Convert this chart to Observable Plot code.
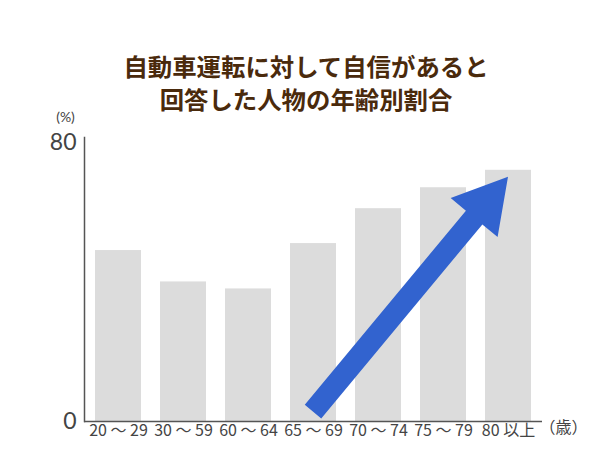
<!DOCTYPE html>
<html><head><meta charset="utf-8">
<script src="https://cdn.jsdelivr.net/npm/d3@7"></script>
<script src="https://cdn.jsdelivr.net/npm/@observablehq/plot@0.6"></script>
<style>
body{margin:0;background:#fff;width:600px;height:450px;overflow:hidden;font-family:"Noto Sans CJK JP",sans-serif;}
#title{height:118px;box-sizing:border-box;padding-top:49px;padding-left:12px;text-align:center;font-size:24.4px;font-weight:bold;line-height:33px;color:#4a2a0c;}
#chart svg{display:block;}
</style></head><body>
<div id="title">自動車運転に対して自信があると<br>回答した人物の年齢別割合</div>
<div id="chart"></div>
<script>
const ageGroups = ["20 ～ 29", "30 ～ 59", "60 ～ 64", "65 ～ 69", "70 ～ 74", "75 ～ 79", "80 以上"];
const shares = [49, 40, 38, 51, 61, 67, 72];
const yTicks = [0, 80];
const yUnit = "(%)";
const ageUnit = "（歳）";
const arrowFrom = {age: "65 ～ 69", value: 2.7};
const arrowTo = {age: "80 以上", value: 70};

const data = ageGroups.map((age, i) => ({age, share: shares[i]}));

const chart = Plot.plot({
  width: 600,
  height: 332,
  marginLeft: 84,
  marginRight: 58,
  marginTop: 19,
  marginBottom: 29,
  style: {fontFamily: '"Noto Sans CJK JP", sans-serif', color: "#444", background: "transparent", overflow: "visible"},
  x: {domain: ageGroups, paddingInner: 0.29, paddingOuter: 0.15, label: null},
  y: {domain: [0, 81.4], label: null},
  marks: [
    Plot.barY(data, {x: "age", y: "share", fill: "#dcdcdc"}),
    Plot.axisX({tickSize: 0, tickPadding: 3, fontSize: 16, label: null}),
    Plot.axisY({ticks: yTicks, tickSize: 0, tickPadding: 8, fontSize: 23, fontFamily: "Lato", label: null}),
    Plot.ruleY([0], {stroke: "#555", strokeWidth: 1.5}),
    Plot.frame({anchor: "left", stroke: "#555", strokeWidth: 1.5}),
    Plot.text([yUnit], {frameAnchor: "top-left", textAnchor: "middle", dx: -19, dy: -25, fontSize: 14, fontFamily: "Lato", fill: "#444"}),
    Plot.text([ageUnit], {frameAnchor: "bottom-right", textAnchor: "middle", dx: 21, dy: 11, fontSize: 16, fill: "#444"})
  ]
});
document.getElementById("chart").appendChild(chart);

// Arrow computed from data through the chart's scales
const xs = chart.scale("x"), ys = chart.scale("y");
const px = d => xs.apply(d.age) + xs.bandwidth / 2;
const py = d => ys.apply(d.value);
const x0 = px(arrowFrom), y0 = py(arrowFrom), x1 = px(arrowTo), y1 = py(arrowTo);
const len = Math.hypot(x1 - x0, y1 - y0);
const ux = (x1 - x0) / len, uy = (y1 - y0) / len;
const nx = -uy, ny = ux;
const shaftHalf = 10.7, headHalf = 30.5, headLen = 53;
const bx = x1 - ux * headLen, by = y1 - uy * headLen;
const pts = [
  [x0 + nx * shaftHalf, y0 + ny * shaftHalf],
  [bx + nx * shaftHalf, by + ny * shaftHalf],
  [bx + nx * headHalf, by + ny * headHalf],
  [x1, y1],
  [bx - nx * headHalf, by - ny * headHalf],
  [bx - nx * shaftHalf, by - ny * shaftHalf],
  [x0 - nx * shaftHalf, y0 - ny * shaftHalf]
];
d3.select(chart).append("path")
  .attr("d", "M" + pts.map(p => p.join(",")).join("L") + "Z")
  .attr("fill", "#3263cf");
</script>
</body></html>
